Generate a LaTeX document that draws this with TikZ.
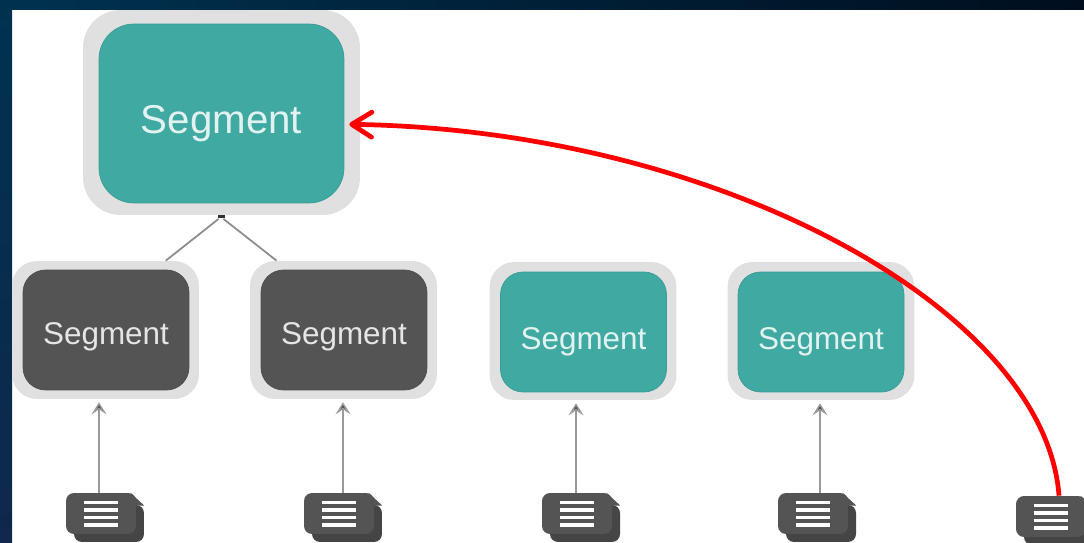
\documentclass[tikz,border=0pt]{standalone}
\usepackage{fontspec}
\setmainfont{Liberation Sans}
\usetikzlibrary{arrows.meta}
\definecolor{teal seg}{RGB}{63,169,162}
\definecolor{dark seg}{RGB}{84,84,84}
\definecolor{halo grey}{RGB}{224,224,224}
\tikzstyle{halo}=[fill=halo grey, rounded corners=0.5cm, minimum width=3.74cm, minimum height=2.76cm]
\tikzstyle{big halo}=[fill=halo grey, rounded corners=0.75cm, minimum width=5.54cm, minimum height=4.1cm]
\tikzstyle{segment}=[rounded corners=0.45cm, minimum width=3.32cm, minimum height=2.4cm, text depth=0pt, font=\fontsize{17.9}{20}\selectfont]
\tikzstyle{live segment}=[segment, fill=teal seg, draw=teal seg!92!black, text=white!85!teal seg, text height=0.72cm]
\tikzstyle{merged segment}=[segment, fill=dark seg, draw=dark seg!92!black, text=white!90!black, text height=0.6cm]
\tikzstyle{big segment}=[live segment, rounded corners=0.7cm, minimum width=4.9cm, minimum height=3.58cm, text height=0.82cm, font=\fontsize{22.9}{26}\selectfont]
\tikzstyle{doc back}=[rounded corners=0.16cm, inner sep=0pt, minimum width=1.4cm, minimum height=0.74cm, fill=black!73]
\tikzstyle{doc rule}=[white, line width=1.9pt]
\tikzstyle{doc page}=[rounded corners=0.16cm, inner sep=0pt, minimum width=1.4cm, minimum height=0.82cm, fill=dark seg, path picture={
    \draw[doc rule] ([shift={(-17,-11)}]path picture bounding box.center) -- ++(34,0)
      ([shift={(-17,-3.5)}]path picture bounding box.center) -- ++(34,0)
      ([shift={(-17,4)}]path picture bounding box.center) -- ++(34,0)
      ([shift={(-17,11.5)}]path picture bounding box.center) -- ++(34,0);},
    append after command={\pgfextra{\fill[dark seg] ([xshift=-0.12cm]\tikzlastnode.north east)
      -- ([shift={(8,13)}]\tikzlastnode.north east) -- ([shift={(0,13)}]\tikzlastnode.north east) -- cycle;}}]
\tikzstyle{feed}=[draw=black!40, line width=0.8pt, shorten >=0.06cm, -{Stealth[length=0.24cm, width=0.3cm, inset=0.1cm, fill=black!70]}]
\tikzstyle{link}=[draw=black!45, line width=1pt]
\tikzstyle{joint}=[fill=black!80, inner sep=0pt, minimum width=0.14cm, minimum height=0.06cm]
\tikzstyle{jump}=[draw=red, line width=2.7pt, -{Straight Barb[length=0.4cm, width=0.5cm, round]}, shorten >=0.1cm]

\begin{document}
\begin{tikzpicture}[x=0.02cm, y=-0.02cm]
      \useasboundingbox (0, 0) rectangle (1084, 543);
      \clip (0, 0) rectangle (1084, 543);
      \shade[left color={rgb,255:red,0;green,50;blue,80}, right color={rgb,255:red,0;green,14;blue,30}] (0, 0) rectangle (1084, 10);
      \shade[top color={rgb,255:red,0;green,50;blue,80}, bottom color={rgb,255:red,15;green,40;blue,75}] (0, 0) rectangle (12, 543);

      \node[big halo] (top halo) at (221.5, 112.5) {};
      \node[big segment] (top seg) at (221.5, 113.5) {Segment};
      \node[halo] (halo a) at (105.5, 330) {};
      \node[merged segment] (seg a) at (106, 330) {Segment};
      \node[halo] (halo b) at (343.5, 330) {};
      \node[merged segment] (seg b) at (344, 330) {Segment};
      \node[halo] (halo c) at (583, 331) {};
      \node[live segment] (seg c) at (583.5, 332) {Segment};
      \node[halo] (halo d) at (821, 331) {};
      \node[live segment] (seg d) at (821, 332) {Segment};

      \node[joint] (join) at (221, 217) {};
      \draw[link] (join) to (halo a.49);
      \draw[link] (join) to (halo b.134);

      \node[doc back] (back a) at (109, 523.5) {};
      \node[doc page] (doc a) at (101, 513.5) {};
      \node[doc back] (back b) at (347, 523.5) {};
      \node[doc page] (doc b) at (339, 513.5) {};
      \node[doc back] (back c) at (585, 523.5) {};
      \node[doc page] (doc c) at (577, 513.5) {};
      \node[doc back] (back d) at (821, 523.5) {};
      \node[doc page] (doc d) at (813, 513.5) {};
      \node[doc back] (back e) at (1059, 526.5) {};
      \node[doc page] (doc e) at (1051, 516.5) {};

      \coordinate (feed a) at (99, 0);
      \coordinate (feed b) at (343, 0);
      \coordinate (feed c) at (576, 0);
      \coordinate (feed d) at (820, 0);
      \draw[feed] (doc a.north -| feed a) to (halo a.south -| feed a);
      \draw[feed] (doc b.north -| feed b) to (halo b.south -| feed b);
      \draw[feed] (doc c.north -| feed c) to (halo c.south -| feed c);
      \draw[feed] (doc d.north -| feed d) to (halo d.south -| feed d);

      \draw[jump] (doc e.69) .. controls (1045, 310) and (720, 130) .. (top seg.-5);
    \end{tikzpicture}
\end{document}
